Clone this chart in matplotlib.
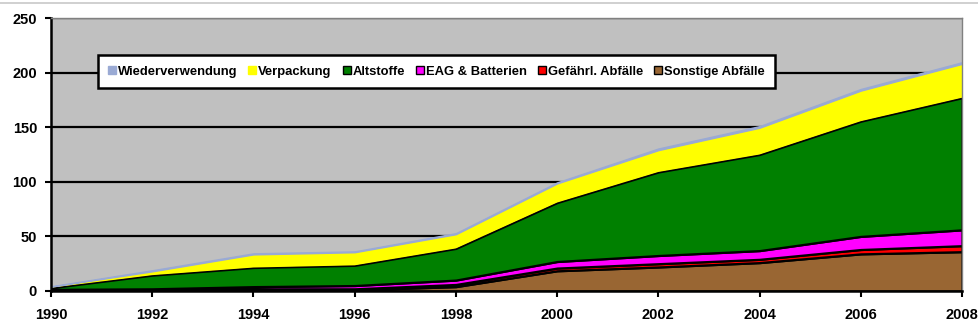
import matplotlib
matplotlib.use("Agg")
import matplotlib.pyplot as plt
import matplotlib.patches as mpatches
from matplotlib.lines import Line2D

plt.rcParams['font.family'] = ['Liberation Sans', 'DejaVu Sans']
plt.rcParams['font.weight'] = 'bold'

# Daten (in 1000 t, gestapelt von unten nach oben)
jahre = [1990, 1992, 1994, 1996, 1998, 2000, 2002, 2004, 2006, 2008]
sonstige = [0.5, 1, 1, 1, 4, 18.5, 22, 26, 34, 36]
gefaehrl = [0.5, 0.5, 1, 1, 2, 2.5, 3, 3, 4, 5.5]
eag = [0.5, 0.5, 2, 3, 4, 6, 7.5, 8, 12, 14.5]
altstoffe = [1.5, 12.5, 17.5, 18.5, 29, 54, 76.5, 88, 105.5, 121]
verpackung = [1, 3.5, 12, 12, 13, 17.5, 20, 24.5, 28, 31]
wiederverw = [0.3, 1, 1, 0.8, 1, 1, 1.5, 1.5, 1.5, 1.5]

namen = ["Sonstige Abfälle", "Gefährl. Abfälle", "EAG & Batterien",
         "Altstoffe", "Verpackung", "Wiederverwendung"]
farben = ["#996633", "#FF0000", "#FF00FF", "#008000", "#FFFF00", "#9AAAD4"]
kanten = ["black", "black", "black", "black", "none", "#9AAAD4"]

fig = plt.figure(figsize=(9.79, 3.31), dpi=100)
ax = fig.add_axes([51 / 979, 40 / 331, 911 / 979, 273 / 331])
ax.set_facecolor("#C0C0C0")

flaechen = ax.stackplot(jahre, sonstige, gefaehrl, eag, altstoffe,
                        verpackung, wiederverw, colors=farben, zorder=2)
for poly, kante in zip(flaechen, kanten):
    poly.set_edgecolor(kante)
    poly.set_linewidth(1.6)
flaechen[-1].set_linewidth(1.0)

ax.set_xlim(1990, 2008)
ax.set_ylim(0, 250)
ax.set_xticks(jahre)
ax.set_yticks(range(0, 251, 50))
ax.grid(axis="y", color="black", linewidth=1.6, zorder=1)
ax.set_axisbelow(True)

ax.tick_params(axis="both", direction="out", length=4, width=1.5,
               labelsize=10.5)
ax.tick_params(axis="y", pad=6)
ax.tick_params(axis="x", pad=8)
for lab in ax.get_xticklabels() + ax.get_yticklabels():
    lab.set_fontweight("bold")

for s in ["left", "bottom"]:
    ax.spines[s].set_color("black")
    ax.spines[s].set_linewidth(1.8)
for s in ["top", "right"]:
    ax.spines[s].set_color("#808080")
    ax.spines[s].set_linewidth(1.0)

# Legende in umgekehrter Reihenfolge (wie im Original)
handles = []
for name, farbe, kante in zip(namen, farben, kanten):
    ec = "black" if kante == "black" else farbe
    handles.append(mpatches.Patch(facecolor=farbe, edgecolor=ec,
                                  linewidth=1.0, label=name))
handles = handles[::-1]

leg = ax.legend(handles=handles, ncol=6, loc="center",
                bbox_to_anchor=(0.423, 0.8025), frameon=True,
                fancybox=False, framealpha=1, edgecolor="black",
                prop={"weight": "bold", "size": 9.4},
                handlelength=0.6, handleheight=0.6, handletextpad=0.15,
                columnspacing=0.85, borderpad=0.8, borderaxespad=0)
leg.get_frame().set_linewidth(1.8)
leg.set_zorder(5)

# feine graue Linie am oberen Rand
fig.add_artist(Line2D([0, 1], [1 - 2.5 / 331, 1 - 2.5 / 331],
                      color="#C8C8C8", linewidth=1.2))

fig.savefig("out.png", dpi=100, facecolor="white")
